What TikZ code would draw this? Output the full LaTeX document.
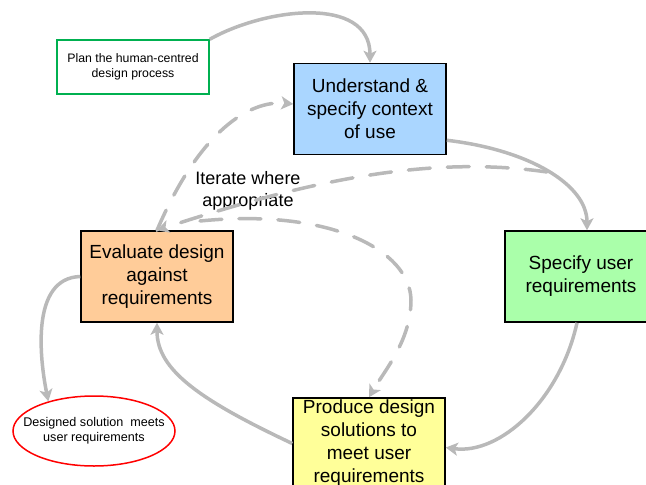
\documentclass[tikz,border=0pt]{standalone}
\usepackage{fontspec}
\setmainfont{Liberation Sans}
\usetikzlibrary{shapes.geometric,arrows.meta}
\definecolor{ctxblue}{RGB}{170,214,255}
\definecolor{evalorange}{RGB}{255,204,153}
\definecolor{specgreen}{RGB}{170,255,170}
\definecolor{prodyellow}{RGB}{255,255,153}
\definecolor{plangreen}{RGB}{0,176,80}
\definecolor{flowgray}{RGB}{185,185,185}
\tikzset{
  stagebox/.style={draw=black, line width=1.5pt, minimum width=152pt, minimum height=91pt,
    align=center, inner sep=2pt, font=\fontsize{19}{23}\selectfont},
  flow/.style={->, draw=flowgray, line width=3.5pt},
  iterflow/.style={flow, line cap=round, dash pattern=on 22pt off 17pt},
}
\begin{document}
\begin{tikzpicture}[x=1pt, y=-1pt, >={Stealth[length=12pt,width=13pt,inset=3pt]}]
  \useasboundingbox (0,0) rectangle (646,485);
  \clip (0,0) rectangle (646,485);
  % stages of the cycle
  \node[stagebox, fill=ctxblue] (ctx) at (370,109) {Understand \&\\specify context\\of use};
  \node[stagebox, fill=specgreen] (spec) at (581,276.5) {Specify user\\requirements};
  \node[stagebox, fill=prodyellow] (prod) at (369,443.5) {Produce design\\solutions to\\meet user\\requirements};
  \node[stagebox, fill=evalorange] (eval) at (157,276.5) {Evaluate design\\against\\requirements};
  % start and end
  \node[draw=plangreen, line width=1.3pt, minimum width=152pt, minimum height=54pt, align=center,
    font=\fontsize{12.3}{15}\selectfont] (plan) at (133,67) {Plan the human-centred\\design process};
  \node[ellipse, draw=red, line width=1.5pt, minimum width=162pt, minimum height=70pt, align=center,
    inner xsep=-16pt, inner ysep=0pt, font=\fontsize{12.6}{15}\selectfont] (done) at (94,431)
    {Designed solution\ \ meets\\user requirements};
  \node[align=center, font=\fontsize{18}{22}\selectfont] (iter) at (248,191) {Iterate where\\appropriate};
  % main cycle
  \draw[flow] (plan.north east) .. controls (265,8) and (370,-5) .. (ctx.north);
  \draw[flow] ([yshift=15pt]ctx.south east) .. controls (530,150) and (587,185) .. ([xshift=6pt]spec.north);
  \draw[flow] ([xshift=-4pt]spec.south) .. controls (560,400) and (500,455) .. ([yshift=-4pt]prod.east);
  \draw[flow] (prod.west) .. controls (200,400) and (157,370) .. (eval.south);
  \draw[flow] (eval.west) .. controls (30,278) and (40,360) .. (done.147);
  % iteration
  \coordinate (arcpt) at (547,172);
  \coordinate (loopstart) at (200,221);
  \draw[iterflow] (eval.north) .. controls (200,130) and (250,100) .. ([yshift=5pt]ctx.west);
  \draw[iterflow] (arcpt) .. controls (430,155) and (310,180) .. (eval.north);
  \draw[iterflow] (loopstart) .. controls (330,208) and (410,250) .. (411,300)
    .. controls (411,340) and (385,370) .. (prod.north);
\end{tikzpicture}
\end{document}
